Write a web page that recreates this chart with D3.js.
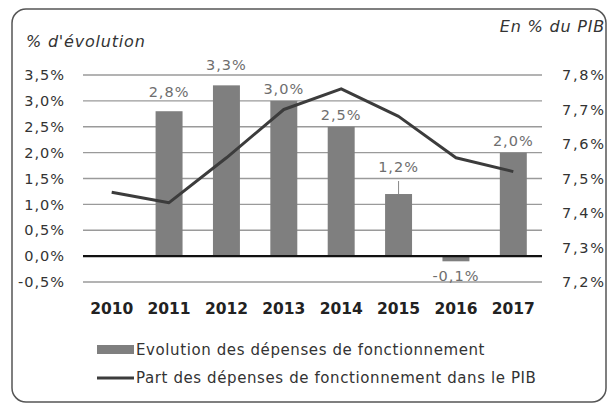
<!doctype html>
<meta charset='utf-8' />
<script src='https://cdn.jsdelivr.net/npm/d3@7'></script>
<style>
    body { margin: 0; background: #fff; }
    text { font-family: 'DejaVu Sans', sans-serif; }
</style>
<svg></svg>
<script>
    var width = 609,
        height = 409

    // données
    var years = ['2010', '2011', '2012', '2013', '2014', '2015', '2016', '2017']
    var evolution = [null, 2.8, 3.3, 3.0, 2.5, 1.2, -0.1, 2.0]
    var partPIB = [7.46, 7.43, 7.56, 7.70, 7.76, 7.68, 7.56, 7.52]
    var leftTicks = [-0.5, 0, 0.5, 1, 1.5, 2, 2.5, 3, 3.5]
    var rightTicks = [7.2, 7.3, 7.4, 7.5, 7.6, 7.7, 7.8]

    var fr = d3.formatLocale({ decimal: ',', thousands: ' ', grouping: [3], currency: ['', '€'], minus: '-' })
    var pct = v => fr.format('.1f')(v) + '%'

    var svg = d3.select('svg')
        .attr('width', width)
        .attr('height', height)

    svg.append('rect')
        .attr('x', 12).attr('y', 9)
        .attr('width', 594).attr('height', 393)
        .attr('rx', 14)
        .style('fill', '#fff')
        .style('stroke', '#555')
        .style('stroke-width', 1.5)

    var x = d3.scaleBand()
        .domain(years)
        .range([83, 542])
        .paddingInner(0.53)
        .paddingOuter(0.265)

    var yL = d3.scaleLinear().domain([-0.5, 3.5]).range([282, 75])
    var yR = d3.scaleLinear().domain([7.2, 7.8]).range([282, 75])

    // grille
    svg.append('g').selectAll('line')
        .data(leftTicks.filter(d => d !== 0))
        .enter()
        .append('line')
        .attr('x1', 83).attr('x2', 542)
        .attr('y1', d => yL(d)).attr('y2', d => yL(d))
        .style('stroke', '#9a9a9a')
        .style('stroke-width', 1.3)

    // axes
    var axL = svg.append('g')
        .attr('transform', 'translate(83,0)')
        .call(d3.axisLeft(yL).tickValues(leftTicks).tickSize(0).tickPadding(18).tickFormat(pct))
    var axR = svg.append('g')
        .attr('transform', 'translate(542,0)')
        .call(d3.axisRight(yR).tickValues(rightTicks).tickSize(0).tickPadding(20).tickFormat(pct))
    var axB = svg.append('g')
        .attr('transform', 'translate(0,282)')
        .call(d3.axisBottom(x).tickSize(0).tickPadding(21))

    ;[axL, axR, axB].forEach(a => {
        a.select('.domain').remove()
        a.selectAll('text')
            .style('font-family', "'DejaVu Sans', sans-serif")
            .style('fill', '#333')
    })
    axL.selectAll('text').style('font-size', '14.5px').style('letter-spacing', '1px')
    axR.selectAll('text').style('font-size', '14.5px').style('letter-spacing', '1.7px')
    axB.selectAll('text').style('font-size', '15.5px').style('font-weight', 'bold').style('fill', '#222')

    // barres
    var bars = years.map((y, i) => ({ year: y, v: evolution[i] })).filter(d => d.v !== null)

    svg.append('g').selectAll('rect')
        .data(bars)
        .enter()
        .append('rect')
        .attr('x', d => x(d.year))
        .attr('width', x.bandwidth())
        .attr('y', d => Math.min(yL(d.v), yL(0)))
        .attr('height', d => Math.abs(yL(d.v) - yL(0)))
        .style('fill', '#7f7f7f')

    // ligne du zéro
    svg.append('line')
        .attr('x1', 83).attr('x2', 542)
        .attr('y1', yL(0)).attr('y2', yL(0))
        .style('stroke', '#111')
        .style('stroke-width', 2.2)

    // étiquettes des barres
    var labelGap = { '2011': 14, '2012': 15, '2015': 22, '2016': -20 }

    svg.append('g').selectAll('text')
        .data(bars)
        .enter()
        .append('text')
        .attr('x', d => x(d.year) + x.bandwidth() / 2)
        .attr('y', d => {
            var g = labelGap[d.year] !== undefined ? labelGap[d.year] : 7
            return yL(d.v) - g
        })
        .attr('text-anchor', 'middle')
        .style('font-size', '14.5px')
        .style('letter-spacing', '1px')
        .style('fill', '#6e6e6e')
        .text(d => pct(d.v))

    // trait de rappel pour 1,2%
    svg.append('line')
        .attr('x1', x('2015') + x.bandwidth() / 2)
        .attr('x2', x('2015') + x.bandwidth() / 2)
        .attr('y1', yL(1.2) - 13).attr('y2', yL(1.2))
        .style('stroke', '#888')
        .style('stroke-width', 1)

    // courbe part dans le PIB
    var line = d3.line()
        .x((d, i) => x(years[i]) + x.bandwidth() / 2)
        .y(d => yR(d))

    svg.append('path')
        .datum(partPIB)
        .attr('d', line)
        .style('fill', 'none')
        .style('stroke', '#3c3c3c')
        .style('stroke-width', 3)
        .style('stroke-linejoin', 'round')

    // titres
    svg.append('text')
        .attr('x', 26).attr('y', 47)
        .style('font-size', '16px')
        .style('letter-spacing', '0.8px')
        .style('font-style', 'italic')
        .style('fill', '#333')
        .text("% d'évolution")

    svg.append('text')
        .attr('x', 605).attr('y', 32)
        .attr('text-anchor', 'end')
        .style('font-size', '16px')
        .style('letter-spacing', '0.8px')
        .style('font-style', 'italic')
        .style('fill', '#333')
        .text('En % du PIB')

    // légende
    var legend = svg.append('g')
    legend.append('rect')
        .attr('x', 97).attr('y', 345)
        .attr('width', 37).attr('height', 9)
        .style('fill', '#7f7f7f')
    legend.append('text')
        .attr('x', 136).attr('y', 355)
        .style('font-size', '15px')
        .style('letter-spacing', '0.6px')
        .style('fill', '#333')
        .text('Evolution des dépenses de fonctionnement')
    legend.append('line')
        .attr('x1', 97).attr('x2', 134)
        .attr('y1', 378).attr('y2', 378)
        .style('stroke', '#3c3c3c')
        .style('stroke-width', 3)
    legend.append('text')
        .attr('x', 136).attr('y', 383)
        .style('font-size', '15px')
        .style('letter-spacing', '0.6px')
        .style('fill', '#333')
        .text('Part des dépenses de fonctionnement dans le PIB')
</script>
